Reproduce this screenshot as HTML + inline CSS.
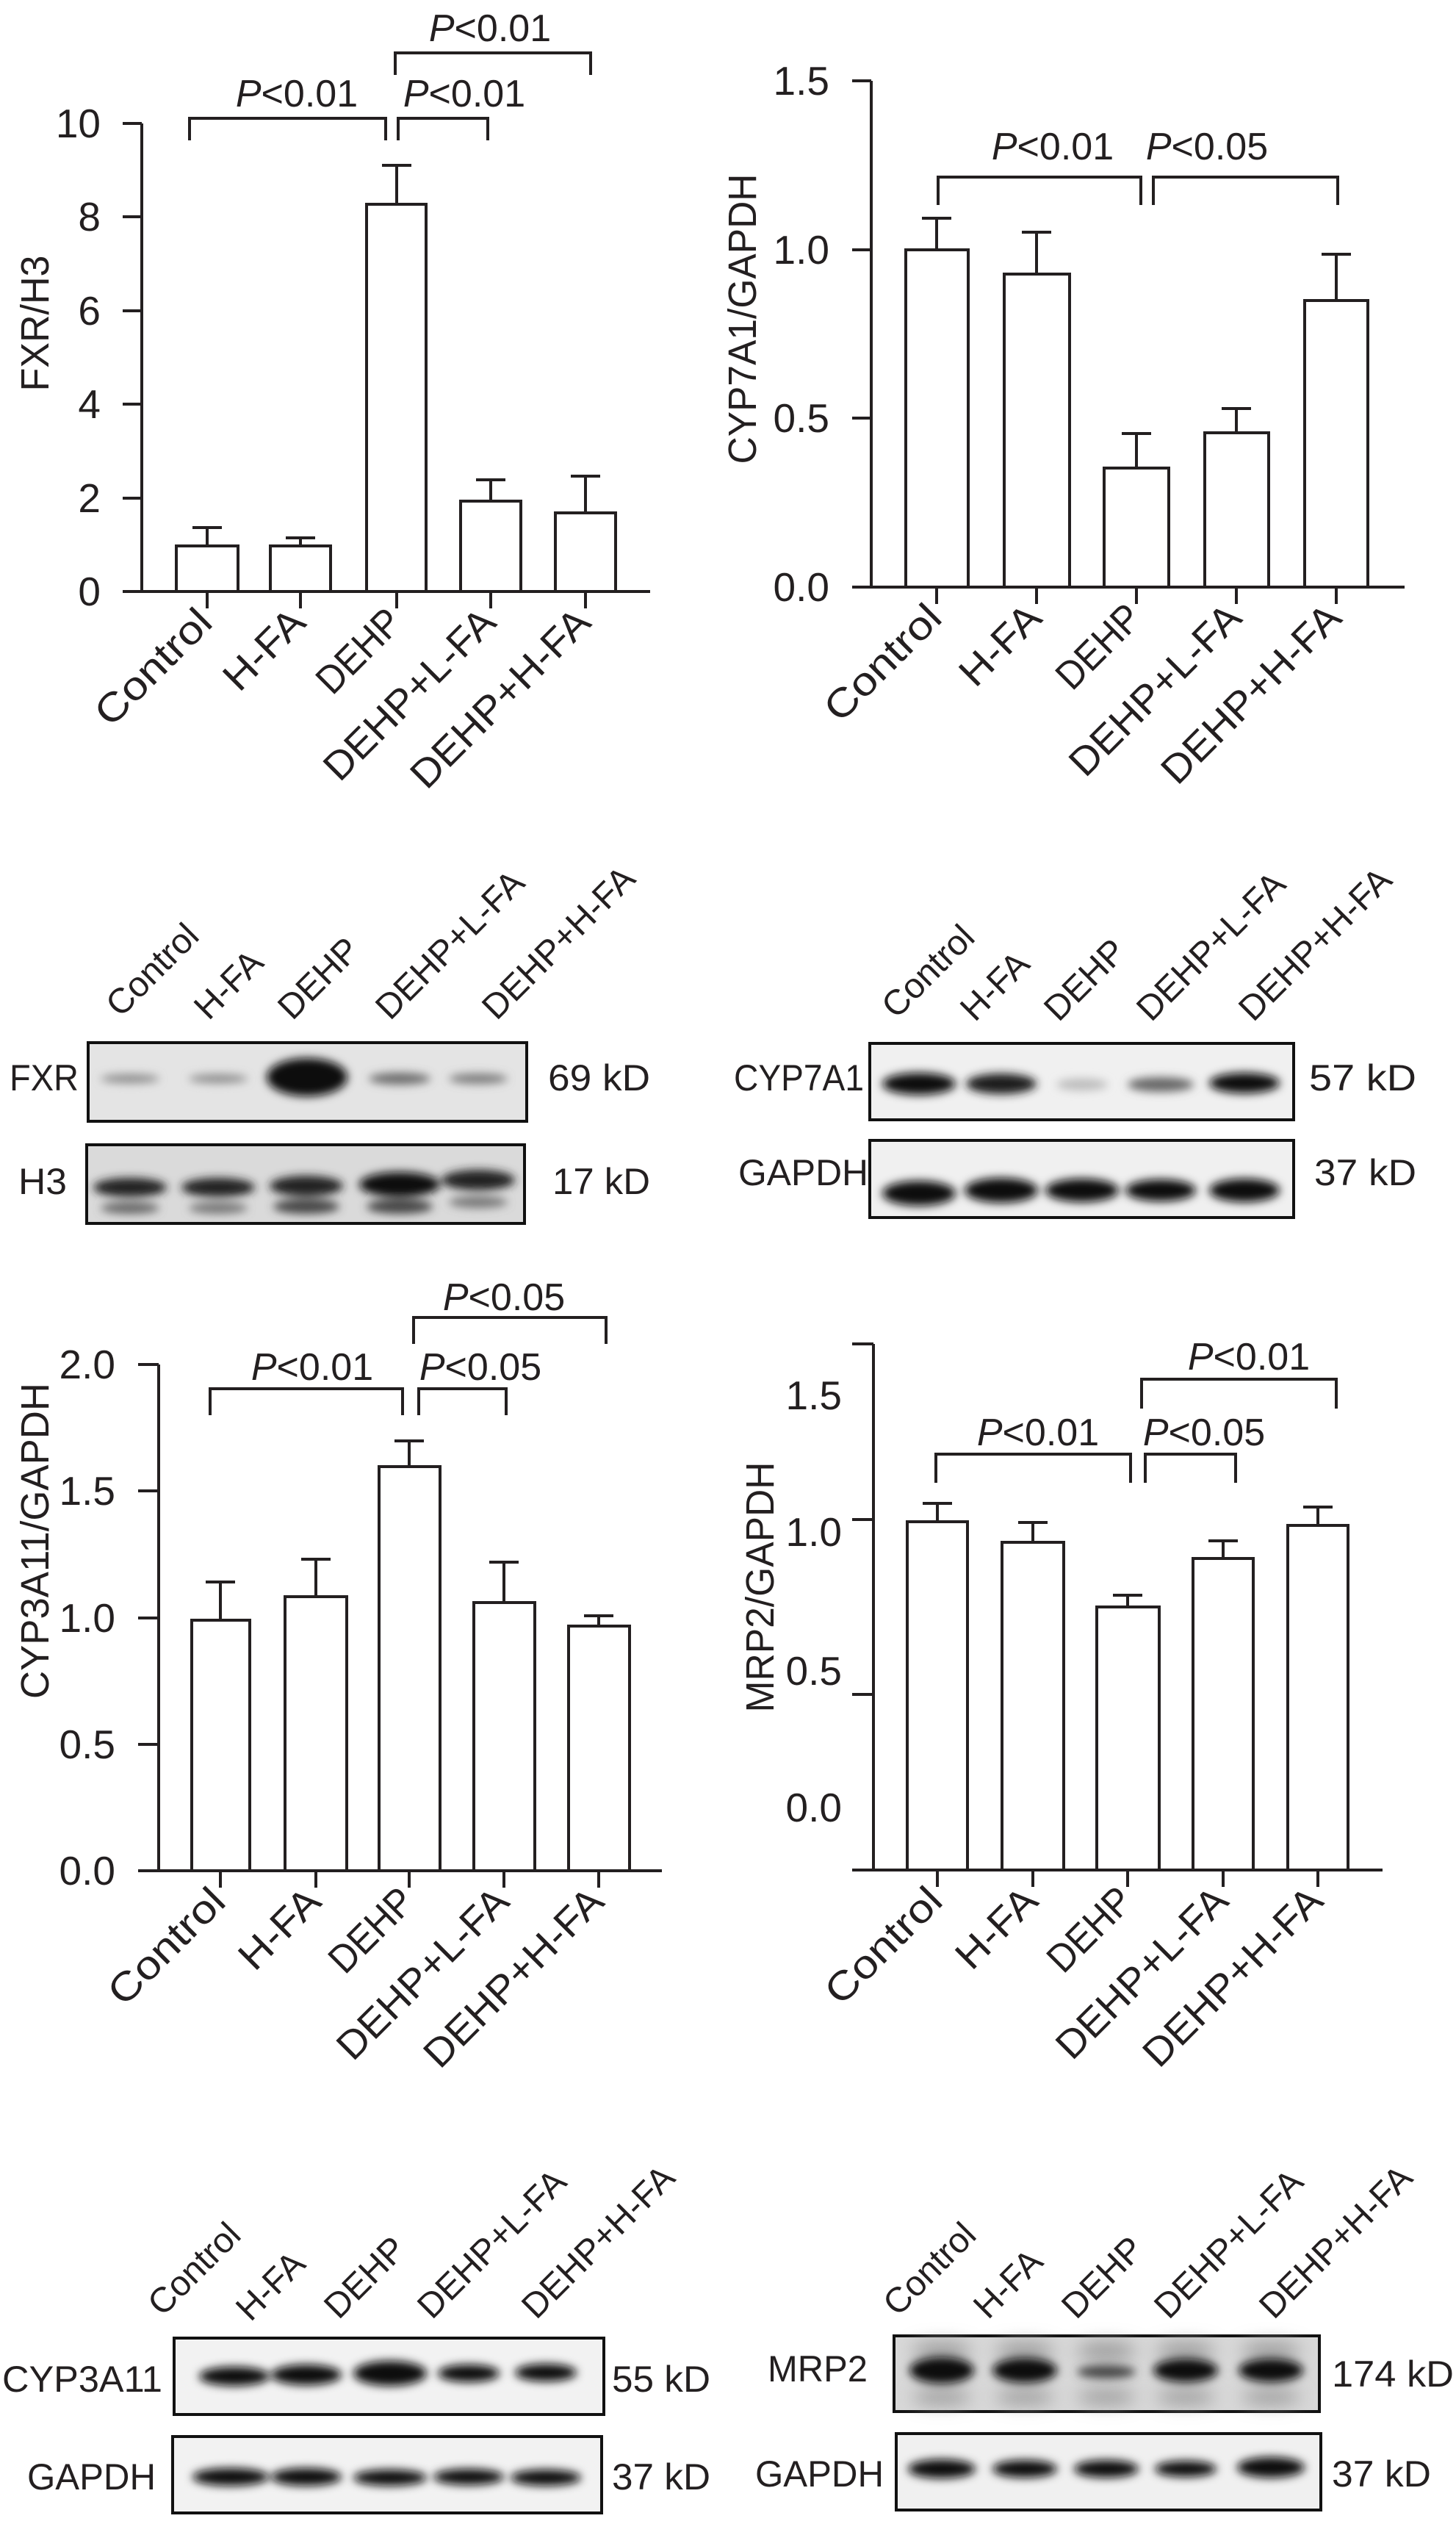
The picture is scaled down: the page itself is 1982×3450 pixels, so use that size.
<!DOCTYPE html>
<html><head><meta charset="utf-8"><style>
html,body{margin:0;padding:0;background:#fff}
svg{display:block}
text{font-family:"Liberation Sans",sans-serif;fill:#231f20}
.t{font-size:55px}
.p{font-size:52px}
.yl{font-size:54px}
.xl{font-size:54px}
.bl{font-size:50px}
.ll{font-size:48px}
</style></head><body>
<svg width="1982" height="3450" viewBox="0 0 1982 3450" xmlns="http://www.w3.org/2000/svg">
<defs>
<filter id="b1" x="-50%" y="-100%" width="200%" height="300%"><feGaussianBlur stdDeviation="6"/></filter>
<filter id="b2" x="-50%" y="-100%" width="200%" height="300%"><feGaussianBlur stdDeviation="12"/></filter>
</defs>
<g stroke="#231f20" stroke-width="4" fill="none">
<!-- Chart 1 -->
<path d="M193 168V805M167 805H885M167 168H193M167 295H193M167 423H193M167 550H193M167 678H193"/>
<path d="M282 805V828M409 805V828M540 805V828M668 805V828M797 805V828"/>
<rect x="240" y="743" width="84" height="62" fill="#fff"/>
<rect x="368" y="743" width="82" height="62" fill="#fff"/>
<rect x="499" y="278" width="81" height="527" fill="#fff"/>
<rect x="627" y="682" width="82" height="123" fill="#fff"/>
<rect x="756" y="698" width="82" height="107" fill="#fff"/>
<path d="M282 743V718M262 718H302M409 743V732M389 732H429M540 278V225M520 225H560M668 682V653M648 653H688M797 698V648M777 648H817"/>
<path d="M258 191V161H525V191M542 191V161H664V191M538 102V72H804V102"/>
<!-- Chart 2 -->
<path d="M1186 110V799M1160 799H1912M1160 110H1186M1160 340H1186M1160 569H1186"/>
<path d="M1275 799V822M1411 799V822M1547 799V822M1683 799V822M1819 799V822"/>
<rect x="1233" y="340" width="85" height="459" fill="#fff"/>
<rect x="1367" y="373" width="89" height="426" fill="#fff"/>
<rect x="1503" y="637" width="88" height="162" fill="#fff"/>
<rect x="1640" y="589" width="87" height="210" fill="#fff"/>
<rect x="1776" y="409" width="86" height="390" fill="#fff"/>
<path d="M1275 340V297M1255 297H1295M1411 373V316M1391 316H1431M1547 637V590M1527 590H1567M1683 589V556M1663 556H1703M1819 409V346M1799 346H1839"/>
<path d="M1277 279V241H1553V279M1570 279V241H1821V279"/>
<!-- Chart 3 -->
<path d="M216 1857V2546M188 2546H901M188 1857H216M188 2029H216M188 2202H216M188 2374H216"/>
<path d="M300 2546V2569M430 2546V2569M557 2546V2569M686 2546V2569M815 2546V2569"/>
<rect x="261" y="2205" width="79" height="341" fill="#fff"/>
<rect x="388" y="2173" width="84" height="373" fill="#fff"/>
<rect x="516" y="1996" width="83" height="550" fill="#fff"/>
<rect x="645" y="2181" width="83" height="365" fill="#fff"/>
<rect x="774" y="2213" width="83" height="333" fill="#fff"/>
<path d="M300 2205V2153M280 2153H320M430 2173V2122M410 2122H450M557 1996V1961M537 1961H577M686 2181V2126M666 2126H706M815 2213V2199M795 2199H835"/>
<path d="M286 1926V1890H548V1926M570 1926V1890H689V1926M563 1829V1793H825V1829"/>
<!-- Chart 4 -->
<path d="M1189 1829V2545M1160 2545H1882M1160 1829H1189M1160 2068H1189M1160 2306H1189"/>
<path d="M1276 2545V2568M1406 2545V2568M1535 2545V2568M1665 2545V2568M1794 2545V2568"/>
<rect x="1235" y="2071" width="82" height="474" fill="#fff"/>
<rect x="1364" y="2099" width="84" height="446" fill="#fff"/>
<rect x="1493" y="2187" width="85" height="358" fill="#fff"/>
<rect x="1624" y="2121" width="82" height="424" fill="#fff"/>
<rect x="1753" y="2076" width="82" height="469" fill="#fff"/>
<path d="M1276 2071V2046M1256 2046H1296M1406 2099V2072M1386 2072H1426M1535 2187V2171M1515 2171H1555M1665 2121V2097M1645 2097H1685M1794 2076V2051M1774 2051H1814"/>
<path d="M1274 2018V1979H1539V2018M1559 2018V1979H1682V2018M1554 1917V1877H1819V1917"/>
</g>

<!-- Chart 1 text -->
<g class="t" text-anchor="end">
<text x="137" y="187">10</text><text x="137" y="314">8</text><text x="137" y="442">6</text><text x="137" y="569">4</text><text x="137" y="697">2</text><text x="137" y="824">0</text>
</g>
<text class="yl" text-anchor="middle" transform="translate(66,440) rotate(-90)" textLength="185" lengthAdjust="spacingAndGlyphs">FXR/H3</text>
<g class="p" text-anchor="middle">
<text x="404" y="145"><tspan font-style="italic">P</tspan>&lt;0.01</text>
<text x="632" y="145"><tspan font-style="italic">P</tspan>&lt;0.01</text>
<text x="667" y="56"><tspan font-style="italic">P</tspan>&lt;0.01</text>
</g>
<g class="xl" text-anchor="end">
<text transform="translate(292,850) rotate(-45)" textLength="200" lengthAdjust="spacingAndGlyphs">Control</text>
<text transform="translate(419,850) rotate(-45)" textLength="132" lengthAdjust="spacingAndGlyphs">H-FA</text>
<text transform="translate(550,850) rotate(-45)" textLength="138" lengthAdjust="spacingAndGlyphs">DEHP</text>
<text transform="translate(678,850) rotate(-45)" textLength="305" lengthAdjust="spacingAndGlyphs">DEHP+L-FA</text>
<text transform="translate(807,850) rotate(-45)" textLength="320" lengthAdjust="spacingAndGlyphs">DEHP+H-FA</text>
</g>

<!-- Chart 2 text -->
<g class="t" text-anchor="end">
<text x="1129" y="129">1.5</text><text x="1129" y="359">1.0</text><text x="1129" y="588">0.5</text><text x="1129" y="818">0.0</text>
</g>
<text class="yl" text-anchor="middle" transform="translate(1029,434) rotate(-90)" textLength="395" lengthAdjust="spacingAndGlyphs">CYP7A1/GAPDH</text>
<g class="p" text-anchor="middle">
<text x="1433" y="217"><tspan font-style="italic">P</tspan>&lt;0.01</text>
<text x="1643" y="217"><tspan font-style="italic">P</tspan>&lt;0.05</text>
</g>
<g class="xl" text-anchor="end">
<text transform="translate(1285,844) rotate(-45)" textLength="200" lengthAdjust="spacingAndGlyphs">Control</text>
<text transform="translate(1421,844) rotate(-45)" textLength="132" lengthAdjust="spacingAndGlyphs">H-FA</text>
<text transform="translate(1557,844) rotate(-45)" textLength="138" lengthAdjust="spacingAndGlyphs">DEHP</text>
<text transform="translate(1693,844) rotate(-45)" textLength="305" lengthAdjust="spacingAndGlyphs">DEHP+L-FA</text>
<text transform="translate(1829,844) rotate(-45)" textLength="320" lengthAdjust="spacingAndGlyphs">DEHP+H-FA</text>
</g>

<!-- Chart 3 text -->
<g class="t" text-anchor="end">
<text x="157" y="1876">2.0</text><text x="157" y="2048">1.5</text><text x="157" y="2221">1.0</text><text x="157" y="2393">0.5</text><text x="157" y="2565">0.0</text>
</g>
<text class="yl" text-anchor="middle" transform="translate(66,2097) rotate(-90)" textLength="430" lengthAdjust="spacingAndGlyphs">CYP3A11/GAPDH</text>
<g class="p" text-anchor="middle">
<text x="425" y="1878"><tspan font-style="italic">P</tspan>&lt;0.01</text>
<text x="654" y="1878"><tspan font-style="italic">P</tspan>&lt;0.05</text>
<text x="686" y="1783"><tspan font-style="italic">P</tspan>&lt;0.05</text>
</g>
<g class="xl" text-anchor="end">
<text transform="translate(310,2591) rotate(-45)" textLength="200" lengthAdjust="spacingAndGlyphs">Control</text>
<text transform="translate(440,2591) rotate(-45)" textLength="132" lengthAdjust="spacingAndGlyphs">H-FA</text>
<text transform="translate(567,2591) rotate(-45)" textLength="138" lengthAdjust="spacingAndGlyphs">DEHP</text>
<text transform="translate(696,2591) rotate(-45)" textLength="305" lengthAdjust="spacingAndGlyphs">DEHP+L-FA</text>
<text transform="translate(825,2591) rotate(-45)" textLength="320" lengthAdjust="spacingAndGlyphs">DEHP+H-FA</text>
</g>

<!-- Chart 4 text -->
<g class="t" text-anchor="end">
<text x="1146" y="1918">1.5</text><text x="1146" y="2104">1.0</text><text x="1146" y="2293">0.5</text><text x="1146" y="2479">0.0</text>
</g>
<text class="yl" text-anchor="middle" transform="translate(1053,2160) rotate(-90)" textLength="341" lengthAdjust="spacingAndGlyphs">MRP2/GAPDH</text>
<g class="p" text-anchor="middle">
<text x="1413" y="1967"><tspan font-style="italic">P</tspan>&lt;0.01</text>
<text x="1639" y="1967"><tspan font-style="italic">P</tspan>&lt;0.05</text>
<text x="1700" y="1864"><tspan font-style="italic">P</tspan>&lt;0.01</text>
</g>
<g class="xl" text-anchor="end">
<text transform="translate(1286,2590) rotate(-45)" textLength="200" lengthAdjust="spacingAndGlyphs">Control</text>
<text transform="translate(1416,2590) rotate(-45)" textLength="132" lengthAdjust="spacingAndGlyphs">H-FA</text>
<text transform="translate(1545,2590) rotate(-45)" textLength="138" lengthAdjust="spacingAndGlyphs">DEHP</text>
<text transform="translate(1675,2590) rotate(-45)" textLength="305" lengthAdjust="spacingAndGlyphs">DEHP+L-FA</text>
<text transform="translate(1804,2590) rotate(-45)" textLength="320" lengthAdjust="spacingAndGlyphs">DEHP+H-FA</text>
</g>

<!-- Blots top-left -->
<g class="ll">
<text transform="translate(164,1386) rotate(-45)">Control</text>
<text transform="translate(284,1390) rotate(-45)">H-FA</text>
<text transform="translate(398,1390) rotate(-45)">DEHP</text>
<text transform="translate(531,1390) rotate(-45)">DEHP+L-FA</text>
<text transform="translate(676,1390) rotate(-45)">DEHP+H-FA</text>
</g>
<rect x="120" y="1419" width="597" height="107" fill="#e4e4e4" stroke="#111" stroke-width="4"/>
<g filter="url(#b1)" fill="#8a8a8a">
<ellipse cx="177" cy="1468" rx="40" ry="6"/><ellipse cx="297" cy="1468" rx="40" ry="6"/>
<ellipse cx="544" cy="1468" rx="42" ry="8" fill="#6a6a6a"/><ellipse cx="651" cy="1468" rx="40" ry="7" fill="#7a7a7a"/>
</g>
<ellipse cx="418" cy="1466" rx="55" ry="26" fill="#0a0a0a" filter="url(#b1)"/>
<rect x="118" y="1558" width="596" height="107" fill="#dadada" stroke="#111" stroke-width="4"/>
<g filter="url(#b1)">
<ellipse cx="177" cy="1616" rx="50" ry="13" fill="#222"/><ellipse cx="297" cy="1616" rx="50" ry="13" fill="#222"/>
<ellipse cx="417" cy="1614" rx="50" ry="14" fill="#222"/><ellipse cx="544" cy="1612" rx="55" ry="17" fill="#111"/>
<ellipse cx="651" cy="1606" rx="50" ry="14" fill="#222"/>
<ellipse cx="177" cy="1644" rx="40" ry="8" fill="#666"/><ellipse cx="297" cy="1644" rx="40" ry="8" fill="#777"/>
<ellipse cx="417" cy="1642" rx="45" ry="10" fill="#444"/><ellipse cx="544" cy="1642" rx="45" ry="10" fill="#444"/>
<ellipse cx="651" cy="1636" rx="40" ry="8" fill="#777"/>
</g>
<text class="bl" x="13" y="1484" textLength="94" lengthAdjust="spacingAndGlyphs">FXR</text>
<text class="bl" x="25" y="1625" textLength="66" lengthAdjust="spacingAndGlyphs">H3</text>
<text class="bl" x="746" y="1484" textLength="139" lengthAdjust="spacingAndGlyphs">69 kD</text>
<text class="bl" x="752" y="1625" textLength="133" lengthAdjust="spacingAndGlyphs">17 kD</text>

<!-- Blots top-right -->
<g class="ll">
<text transform="translate(1220,1388) rotate(-45)">Control</text>
<text transform="translate(1327,1392) rotate(-45)">H-FA</text>
<text transform="translate(1441,1392) rotate(-45)">DEHP</text>
<text transform="translate(1567,1392) rotate(-45)">DEHP+L-FA</text>
<text transform="translate(1706,1392) rotate(-45)">DEHP+H-FA</text>
</g>
<rect x="1184" y="1420" width="577" height="104" fill="#f0f0f0" stroke="#111" stroke-width="4"/>
<g filter="url(#b1)">
<ellipse cx="1251" cy="1475" rx="50" ry="15" fill="#111"/><ellipse cx="1363" cy="1475" rx="48" ry="14" fill="#1a1a1a"/>
<ellipse cx="1473" cy="1476" rx="35" ry="8" fill="#bbb"/><ellipse cx="1580" cy="1476" rx="45" ry="10" fill="#666"/>
<ellipse cx="1694" cy="1474" rx="48" ry="14" fill="#111"/>
</g>
<rect x="1184" y="1552" width="577" height="105" fill="#f0f0f0" stroke="#111" stroke-width="4"/>
<g filter="url(#b1)" fill="#111">
<ellipse cx="1251" cy="1624" rx="50" ry="17"/><ellipse cx="1363" cy="1620" rx="50" ry="17"/>
<ellipse cx="1473" cy="1620" rx="50" ry="16"/><ellipse cx="1580" cy="1620" rx="48" ry="15"/><ellipse cx="1694" cy="1620" rx="48" ry="16"/>
</g>
<text class="bl" x="999" y="1484" textLength="177" lengthAdjust="spacingAndGlyphs">CYP7A1</text>
<text class="bl" x="1005" y="1613" textLength="177" lengthAdjust="spacingAndGlyphs">GAPDH</text>
<text class="bl" x="1782" y="1484" textLength="146" lengthAdjust="spacingAndGlyphs">57 kD</text>
<text class="bl" x="1789" y="1613" textLength="139" lengthAdjust="spacingAndGlyphs">37 kD</text>

<!-- Blots bottom-left -->
<g class="ll">
<text transform="translate(221,3154) rotate(-45)">Control</text>
<text transform="translate(341,3161) rotate(-45)">H-FA</text>
<text transform="translate(461,3158) rotate(-45)">DEHP</text>
<text transform="translate(588,3158) rotate(-45)">DEHP+L-FA</text>
<text transform="translate(730,3158) rotate(-45)">DEHP+H-FA</text>
</g>
<rect x="237" y="3182" width="585" height="104" fill="#f2f2f2" stroke="#111" stroke-width="4"/>
<g filter="url(#b1)" fill="#111">
<ellipse cx="319" cy="3234" rx="48" ry="13"/><ellipse cx="417" cy="3232" rx="48" ry="14"/>
<ellipse cx="531" cy="3230" rx="50" ry="17"/><ellipse cx="638" cy="3230" rx="42" ry="12"/><ellipse cx="743" cy="3229" rx="42" ry="12"/>
</g>
<rect x="235" y="3316" width="584" height="104" fill="#f2f2f2" stroke="#111" stroke-width="4"/>
<g filter="url(#b1)" fill="#111">
<ellipse cx="314" cy="3371" rx="52" ry="12"/><ellipse cx="417" cy="3371" rx="48" ry="12"/>
<ellipse cx="531" cy="3372" rx="50" ry="11"/><ellipse cx="638" cy="3371" rx="48" ry="11"/><ellipse cx="743" cy="3372" rx="48" ry="11"/>
</g>
<text class="bl" x="3" y="3255" textLength="218" lengthAdjust="spacingAndGlyphs">CYP3A11</text>
<text class="bl" x="37" y="3388" textLength="175" lengthAdjust="spacingAndGlyphs">GAPDH</text>
<text class="bl" x="833" y="3255" textLength="134" lengthAdjust="spacingAndGlyphs">55 kD</text>
<text class="bl" x="833" y="3388" textLength="134" lengthAdjust="spacingAndGlyphs">37 kD</text>

<!-- Blots bottom-right -->
<g class="ll">
<text transform="translate(1222,3154) rotate(-45)">Control</text>
<text transform="translate(1345,3158) rotate(-45)">H-FA</text>
<text transform="translate(1465,3158) rotate(-45)">DEHP</text>
<text transform="translate(1591,3158) rotate(-45)">DEHP+L-FA</text>
<text transform="translate(1734,3158) rotate(-45)">DEHP+H-FA</text>
</g>
<rect x="1217" y="3179" width="579" height="103" fill="#d8d8d8" stroke="#111" stroke-width="4"/>
<g filter="url(#b2)" fill="#999">
<ellipse cx="1282" cy="3200" rx="40" ry="12"/><ellipse cx="1395" cy="3200" rx="40" ry="12"/><ellipse cx="1506" cy="3200" rx="40" ry="12"/><ellipse cx="1614" cy="3200" rx="40" ry="12"/><ellipse cx="1730" cy="3200" rx="40" ry="12"/>
<ellipse cx="1282" cy="3262" rx="40" ry="10"/><ellipse cx="1395" cy="3262" rx="40" ry="10"/><ellipse cx="1506" cy="3262" rx="40" ry="10"/><ellipse cx="1614" cy="3262" rx="40" ry="10"/><ellipse cx="1730" cy="3262" rx="40" ry="10"/>
</g>
<g filter="url(#b1)" fill="#111">
<ellipse cx="1282" cy="3226" rx="44" ry="18"/><ellipse cx="1395" cy="3226" rx="44" ry="17"/>
<ellipse cx="1506" cy="3228" rx="40" ry="9" fill="#444"/><ellipse cx="1614" cy="3226" rx="44" ry="16"/><ellipse cx="1730" cy="3226" rx="44" ry="16"/>
</g>
<rect x="1220" y="3312" width="578" height="104" fill="#f0f0f0" stroke="#111" stroke-width="4"/>
<g filter="url(#b1)" fill="#111">
<ellipse cx="1282" cy="3360" rx="46" ry="13"/><ellipse cx="1395" cy="3360" rx="44" ry="12"/>
<ellipse cx="1506" cy="3360" rx="44" ry="12"/><ellipse cx="1614" cy="3360" rx="42" ry="11"/><ellipse cx="1730" cy="3358" rx="46" ry="14"/>
</g>
<text class="bl" x="1045" y="3241" textLength="136" lengthAdjust="spacingAndGlyphs">MRP2</text>
<text class="bl" x="1028" y="3384" textLength="175" lengthAdjust="spacingAndGlyphs">GAPDH</text>
<text class="bl" x="1813" y="3248" textLength="166" lengthAdjust="spacingAndGlyphs">174 kD</text>
<text class="bl" x="1813" y="3384" textLength="135" lengthAdjust="spacingAndGlyphs">37 kD</text>
</svg>
</body></html>
